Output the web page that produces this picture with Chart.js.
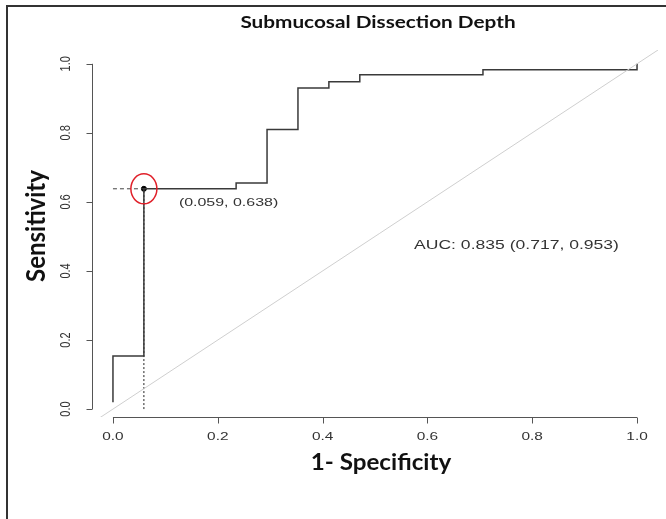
<!DOCTYPE html>
<html>
<head>
<meta charset="utf-8">
<script src="https://cdn.jsdelivr.net/npm/chart.js@4.4.1/dist/chart.umd.min.js"></script>
<style>
  html, body { margin: 0; padding: 0; background: #fff; }
  canvas { display: block; }
</style>
</head>
<body>
<canvas id="roc" width="666" height="519"></canvas>
<script>
// Curva ROC: puntos (1 - especificidad, sensibilidad)
const fpr = [0, 0, 0.059, 0.059, 0.235, 0.235, 0.294, 0.294, 0.353, 0.353, 0.412, 0.412, 0.471, 0.471, 0.706, 0.706, 1.0, 1.0];
const tpr = [0.02, 0.154, 0.154, 0.638, 0.638, 0.655, 0.655, 0.81, 0.81, 0.93, 0.93, 0.948, 0.948, 0.968, 0.968, 0.983, 0.983, 1.0];
const diagLine = [-0.1, 1.1];
const xTicks = [0, 0.2, 0.4, 0.6, 0.8, 1.0];
const yTicks = [0, 0.2, 0.4, 0.6, 0.8, 1.0];
const bestX = 0.059;
const bestY = 0.638;
const aucLabel = 'AUC: 0.835 (0.717, 0.953)';
const bestLabel = '(0.059, 0.638)';

const rocPoints = fpr.map((x, i) => ({ x: x, y: tpr[i] }));
const diagPoints = diagLine.map(v => ({ x: v, y: v }));

// texto estirado en horizontal (la figura original esta ensanchada)
const wideText = (ctx, text, x, y, sx, align) => {
    ctx.save();
    ctx.translate(x, y);
    ctx.scale(sx, 1);
    ctx.textAlign = align;
    ctx.fillText(text, 0, 0);
    ctx.restore();
};

const rStyle = {
    id: 'rStyle',
    afterDraw(chart) {
        const ctx = chart.ctx;
        const xs = chart.scales.x;
        const ys = chart.scales.y;
        const area = chart.chartArea;
        ctx.save();

        // marco de la figura (solo arriba e izquierda)
        ctx.strokeStyle = '#333';
        ctx.lineWidth = 2;
        ctx.beginPath();
        ctx.moveTo(7, 519);
        ctx.lineTo(7, 6);
        ctx.lineTo(666, 6);
        ctx.stroke();

        // ejes estilo R
        ctx.strokeStyle = '#555';
        ctx.lineWidth = 1;
        const axY = area.bottom + 0.5;
        const axX = area.left + 0.5;
        ctx.beginPath();
        ctx.moveTo(xs.getPixelForValue(xTicks[0]), axY);
        ctx.lineTo(xs.getPixelForValue(xTicks[xTicks.length - 1]), axY);
        xTicks.forEach(t => {
            const px = Math.round(xs.getPixelForValue(t)) + 0.5;
            ctx.moveTo(px, axY);
            ctx.lineTo(px, axY + 6);
        });
        ctx.moveTo(axX, ys.getPixelForValue(yTicks[0]));
        ctx.lineTo(axX, ys.getPixelForValue(yTicks[yTicks.length - 1]));
        yTicks.forEach(t => {
            const py = Math.round(ys.getPixelForValue(t)) + 0.5;
            ctx.moveTo(axX, py);
            ctx.lineTo(axX - 6, py);
        });
        ctx.stroke();

        ctx.fillStyle = '#333';
        ctx.textBaseline = 'middle';
        ctx.font = '11px "Liberation Sans", Arial, sans-serif';
        xTicks.forEach(t => {
            wideText(ctx, t.toFixed(1), xs.getPixelForValue(t), axY + 19, 1.4, 'center');
        });
        yTicks.forEach(t => {
            ctx.save();
            ctx.translate(axX - 26, ys.getPixelForValue(t));
            ctx.rotate(-Math.PI / 2);
            ctx.scale(1, 1.3);
            ctx.textAlign = 'center';
            ctx.fillText(t.toFixed(1), 0, 0);
            ctx.restore();
        });

        // etiquetas de texto
        const bx = xs.getPixelForValue(bestX);
        const by = ys.getPixelForValue(bestY);
        ctx.font = '11px "Liberation Sans", Arial, sans-serif';
        wideText(ctx, bestLabel, bx + 35, by + 14, 1.45, 'left');
        ctx.font = '13px "Liberation Sans", Arial, sans-serif';
        wideText(ctx, aucLabel, xs.getPixelForValue(0.77), ys.getPixelForValue(0.475), 1.35, 'center');

        // elipse roja alrededor del punto de corte
        ctx.strokeStyle = '#e0202a';
        ctx.lineWidth = 1.5;
        ctx.beginPath();
        ctx.ellipse(bx, by, 13, 15, 0, 0, Math.PI * 2);
        ctx.stroke();

        // titulo y nombres de ejes
        ctx.fillStyle = '#111';
        ctx.font = 'bold 17px Lato, "Open Sans", sans-serif';
        wideText(ctx, 'Submucosal Dissection Depth', 378, 23, 1.22, 'center');
        ctx.font = 'bold 22px Lato, "Open Sans", sans-serif';
        wideText(ctx, '1- Specificity', 381, 463, 1.1, 'center');
        ctx.save();
        ctx.translate(36, 226);
        ctx.rotate(-Math.PI / 2);
        ctx.scale(1, 1.1);
        ctx.font = 'bold 24px Lato, "Open Sans", sans-serif';
        ctx.textAlign = 'center';
        ctx.fillText('Sensitivity', 0, 0);
        ctx.restore();

        ctx.restore();
    }
};

new Chart(document.getElementById('roc'), {
    type: 'scatter',
    data: {
        datasets: [
            {
                label: 'Referencia',
                data: diagPoints,
                showLine: true,
                borderColor: '#cfcfcf',
                borderWidth: 1,
                pointRadius: 0
            },
            {
                label: 'ROC',
                data: rocPoints,
                showLine: true,
                borderColor: '#3a3a3a',
                borderWidth: 1.5,
                pointRadius: 0
            },
            {
                label: 'Horizontal',
                data: [{ x: 0, y: bestY }, { x: bestX, y: bestY }],
                showLine: true,
                borderColor: '#444',
                borderWidth: 1,
                borderDash: [4, 3],
                pointRadius: 0
            },
            {
                label: 'Vertical',
                data: [{ x: bestX, y: 0 }, { x: bestX, y: bestY }],
                showLine: true,
                borderColor: '#222',
                borderWidth: 1,
                borderDash: [2, 2],
                pointRadius: 0
            },
            {
                label: 'Corte',
                data: [{ x: bestX, y: bestY }],
                pointRadius: 2.5,
                backgroundColor: '#000',
                borderColor: '#000'
            }
        ]
    },
    options: {
        responsive: false,
        animation: false,
        layout: { padding: { left: 92, right: 8, top: 50, bottom: 102 } },
        scales: {
            x: { type: 'linear', min: -0.04, max: 1.04, display: false },
            y: { type: 'linear', min: -0.023, max: 1.04, display: false }
        },
        plugins: {
            legend: { display: false },
            tooltip: { enabled: false }
        }
    },
    plugins: [rStyle]
});
</script>
</body>
</html>
